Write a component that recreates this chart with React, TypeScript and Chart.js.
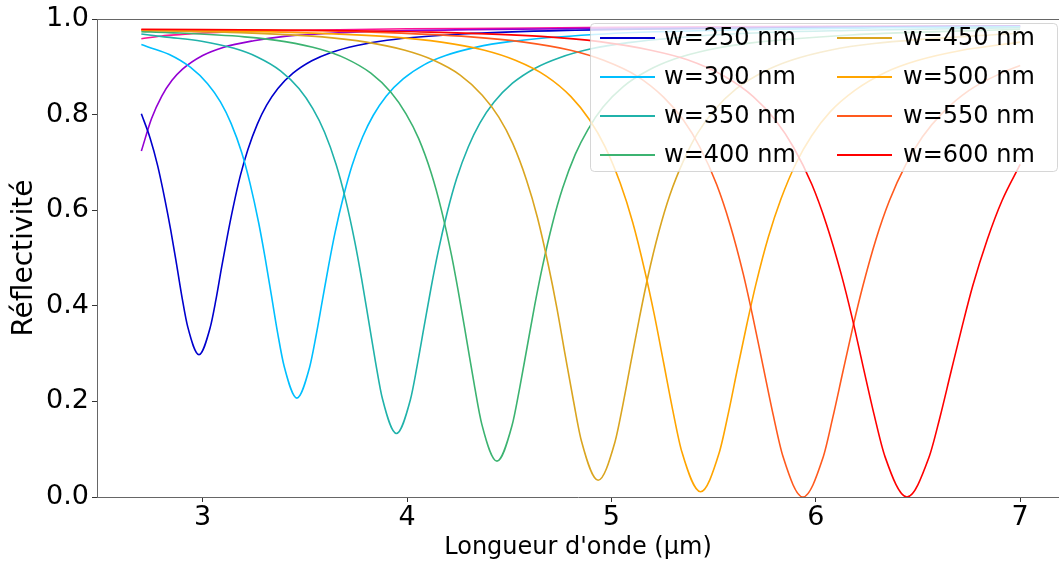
import React, { useEffect, useRef } from 'react';
import { Chart, registerables } from 'chart.js';

Chart.register(...registerables);

const FONT = '"DejaVu Sans", sans-serif';

// Axis ticks
const xTicks = [3, 4, 5, 6, 7];
const yTicks = [0, 0.2, 0.4, 0.6, 0.8, 1.0];

// Series (wavelength in µm, reflectivity)
const w150X = [2.7, 2.8, 2.9, 3.0, 3.2, 3.5, 4.0, 4.5, 5.0, 6.0, 7.0];
const w150Y = [0.959, 0.965, 0.968, 0.971, 0.974, 0.977, 0.98, 0.981, 0.983, 0.985, 0.986];

const w200X = [2.7, 2.75, 2.8, 2.85, 2.9, 3.0, 3.1, 3.25, 3.4, 3.6, 3.9, 4.3, 5.0, 6.0, 7.0];
const w200Y = [0.724, 0.792, 0.839, 0.872, 0.895, 0.924, 0.941, 0.955, 0.964, 0.97, 0.975, 0.978, 0.981, 0.984, 0.986];

const w250X = [2.7, 2.743, 2.78, 2.816, 2.844, 2.872, 2.899, 2.927, 2.982, 3.037, 3.065, 3.092, 3.12, 3.148, 3.184, 3.221, 3.267, 3.313, 3.368, 3.442, 3.534, 3.626, 3.755, 3.902, 4.27, 4.822, 5.558, 6.662, 7.0];
const w250Y = [0.802, 0.751, 0.693, 0.621, 0.558, 0.488, 0.418, 0.356, 0.298, 0.355, 0.413, 0.479, 0.544, 0.604, 0.672, 0.727, 0.78, 0.82, 0.855, 0.887, 0.913, 0.93, 0.945, 0.956, 0.969, 0.977, 0.981, 0.985, 0.985];

const w300X = [2.7, 2.733, 2.837, 2.941, 3.024, 3.087, 3.139, 3.191, 3.232, 3.274, 3.305, 3.336, 3.367, 3.399, 3.461, 3.523, 3.555, 3.586, 3.617, 3.648, 3.69, 3.731, 3.783, 3.835, 3.898, 3.981, 4.085, 4.189, 4.335, 4.501, 4.917, 5.541, 6.373, 7.0];
const w300Y = [0.947, 0.942, 0.926, 0.899, 0.865, 0.827, 0.782, 0.721, 0.656, 0.574, 0.502, 0.423, 0.343, 0.273, 0.207, 0.271, 0.338, 0.412, 0.486, 0.554, 0.631, 0.694, 0.754, 0.799, 0.839, 0.875, 0.905, 0.924, 0.941, 0.953, 0.968, 0.977, 0.982, 0.984];

const w350X = [2.7, 2.813, 2.995, 3.154, 3.267, 3.381, 3.471, 3.539, 3.596, 3.653, 3.698, 3.744, 3.778, 3.812, 3.846, 3.88, 3.948, 4.016, 4.05, 4.084, 4.118, 4.152, 4.198, 4.243, 4.3, 4.357, 4.425, 4.516, 4.629, 4.743, 4.901, 5.083, 5.537, 6.218, 7.0];
const w350Y = [0.969, 0.963, 0.954, 0.939, 0.921, 0.892, 0.855, 0.813, 0.764, 0.696, 0.625, 0.535, 0.456, 0.369, 0.282, 0.205, 0.133, 0.203, 0.276, 0.358, 0.439, 0.513, 0.598, 0.667, 0.733, 0.783, 0.826, 0.866, 0.898, 0.919, 0.938, 0.951, 0.968, 0.977, 0.982];

const w400X = [2.7, 2.835, 3.205, 3.403, 3.576, 3.699, 3.823, 3.921, 3.995, 4.057, 4.119, 4.168, 4.218, 4.255, 4.292, 4.329, 4.366, 4.44, 4.514, 4.551, 4.588, 4.625, 4.662, 4.712, 4.761, 4.823, 4.885, 4.959, 5.058, 5.181, 5.305, 5.477, 5.675, 6.169, 7.0];
const w400Y = [0.974, 0.972, 0.963, 0.953, 0.937, 0.918, 0.887, 0.847, 0.802, 0.75, 0.677, 0.601, 0.505, 0.42, 0.328, 0.235, 0.152, 0.075, 0.15, 0.228, 0.315, 0.402, 0.481, 0.573, 0.646, 0.717, 0.769, 0.816, 0.859, 0.893, 0.916, 0.936, 0.95, 0.967, 0.979];

const w450X = [2.7, 2.775, 3.18, 3.585, 3.801, 3.99, 4.125, 4.26, 4.368, 4.449, 4.517, 4.584, 4.638, 4.692, 4.733, 4.773, 4.814, 4.854, 4.935, 5.016, 5.057, 5.097, 5.138, 5.178, 5.232, 5.286, 5.354, 5.421, 5.502, 5.61, 5.745, 5.88, 6.069, 6.285, 7.0];
const w450Y = [0.977, 0.976, 0.972, 0.963, 0.952, 0.935, 0.915, 0.883, 0.841, 0.795, 0.74, 0.664, 0.585, 0.484, 0.396, 0.299, 0.202, 0.116, 0.035, 0.113, 0.195, 0.286, 0.377, 0.46, 0.555, 0.632, 0.705, 0.761, 0.809, 0.854, 0.89, 0.914, 0.935, 0.949, 0.971];

const w500X = [2.7, 3.02, 3.473, 3.926, 4.168, 4.379, 4.53, 4.681, 4.802, 4.892, 4.968, 5.043, 5.104, 5.164, 5.21, 5.255, 5.3, 5.345, 5.436, 5.527, 5.572, 5.617, 5.663, 5.708, 5.768, 5.829, 5.904, 5.98, 6.07, 6.191, 6.342, 6.493, 6.704, 7.0];
const w500Y = [0.977, 0.976, 0.972, 0.963, 0.952, 0.935, 0.914, 0.881, 0.838, 0.79, 0.734, 0.657, 0.575, 0.472, 0.381, 0.282, 0.182, 0.094, 0.011, 0.092, 0.175, 0.269, 0.362, 0.447, 0.544, 0.623, 0.699, 0.756, 0.806, 0.851, 0.889, 0.913, 0.934, 0.952];

const w550X = [2.7, 3.337, 3.825, 4.312, 4.572, 4.8, 4.962, 5.125, 5.255, 5.352, 5.433, 5.515, 5.58, 5.645, 5.693, 5.742, 5.791, 5.84, 5.937, 6.035, 6.083, 6.132, 6.181, 6.23, 6.295, 6.36, 6.441, 6.522, 6.62, 6.75, 6.912, 7.0];
const w550Y = [0.978, 0.977, 0.973, 0.963, 0.952, 0.935, 0.914, 0.881, 0.837, 0.789, 0.732, 0.654, 0.571, 0.467, 0.375, 0.274, 0.173, 0.084, 0.0, 0.082, 0.166, 0.261, 0.355, 0.441, 0.54, 0.62, 0.696, 0.754, 0.804, 0.851, 0.888, 0.903];

const w600X = [2.7, 3.582, 4.119, 4.656, 4.942, 5.193, 5.372, 5.551, 5.694, 5.802, 5.891, 5.981, 6.052, 6.124, 6.178, 6.231, 6.285, 6.339, 6.446, 6.553, 6.607, 6.661, 6.715, 6.768, 6.84, 6.911, 7.0];
const w600Y = [0.979, 0.977, 0.973, 0.964, 0.953, 0.935, 0.915, 0.881, 0.838, 0.789, 0.732, 0.654, 0.571, 0.467, 0.375, 0.274, 0.173, 0.084, 0.0, 0.082, 0.166, 0.261, 0.355, 0.442, 0.54, 0.62, 0.696];

const seriesLabels = ['w=150 nm', 'w=200 nm', 'w=250 nm', 'w=300 nm', 'w=350 nm', 'w=400 nm', 'w=450 nm', 'w=500 nm', 'w=550 nm', 'w=600 nm'];
const seriesColors = ['#FF1493', '#9400D3', '#0000CD', '#00BFFF', '#20B2AA', '#3CB371', '#DAA520', '#FFA500', '#FF5A1E', '#FF0000'];
const seriesInLegend = [false, false, true, true, true, true, true, true, true, true];
const seriesX = [w150X, w200X, w250X, w300X, w350X, w400X, w450X, w500X, w550X, w600X];
const seriesY = [w150Y, w200Y, w250Y, w300Y, w350Y, w400Y, w450Y, w500Y, w550Y, w600Y];

const topSpinePlugin = {
  id: 'topSpine',
  afterDraw(chart: any) {
    const { ctx, chartArea } = chart;
    ctx.save();
    ctx.strokeStyle = '#666';
    ctx.lineWidth = 1;
    ctx.beginPath();
    const y = Math.round(chartArea.top) + 0.5;
    ctx.moveTo(chartArea.left, y);
    ctx.lineTo(chartArea.right, y);
    ctx.stroke();
    ctx.restore();
  },
};

const legendPlugin = {
  id: 'mplLegend',
  afterDraw(chart: any) {
    const ctx = chart.ctx;
    ctx.save();
    const bx = 590.5, by = 23.5, bw = 467, bh = 148, r = 4;
    ctx.beginPath();
    ctx.moveTo(bx + r, by);
    ctx.lineTo(bx + bw - r, by);
    ctx.quadraticCurveTo(bx + bw, by, bx + bw, by + r);
    ctx.lineTo(bx + bw, by + bh - r);
    ctx.quadraticCurveTo(bx + bw, by + bh, bx + bw - r, by + bh);
    ctx.lineTo(bx + r, by + bh);
    ctx.quadraticCurveTo(bx, by + bh, bx, by + bh - r);
    ctx.lineTo(bx, by + r);
    ctx.quadraticCurveTo(bx, by, bx + r, by);
    ctx.closePath();
    ctx.fillStyle = 'rgba(255,255,255,0.8)';
    ctx.fill();
    ctx.strokeStyle = 'rgba(204,204,204,0.8)';
    ctx.lineWidth = 1;
    ctx.stroke();

    const entries = seriesLabels.map((l, i) => ({ l, c: seriesColors[i], show: seriesInLegend[i] })).filter((e) => e.show);
    const handleX = [[600, 655], [837, 892]];
    const textX = [664, 903];
    ctx.font = `24px ${FONT}`;
    ctx.textBaseline = 'middle';
    ctx.textAlign = 'left';
    entries.forEach((e, i) => {
      const col = Math.floor(i / 4);
      const row = i % 4;
      const y = 38 + row * 39;
      ctx.strokeStyle = e.c;
      ctx.lineWidth = 2;
      ctx.beginPath();
      ctx.moveTo(handleX[col][0], y);
      ctx.lineTo(handleX[col][1], y);
      ctx.stroke();
      ctx.fillStyle = '#000';
      ctx.fillText(e.l, textX[col], y + 1);
    });
    ctx.restore();
  },
};

export default function App() {
  const ref = useRef<HTMLCanvasElement>(null);
  useEffect(() => {
    document.body.style.margin = '0';
    document.body.style.overflow = 'hidden';
    const n = seriesX.length;
    const chart = new Chart(ref.current as HTMLCanvasElement, {
      type: 'line',
      data: {
        datasets: seriesX.map((xs, i) => ({
          label: seriesLabels[i],
          data: xs.map((x, j) => ({ x, y: seriesY[i][j] })),
          borderColor: seriesColors[i],
          backgroundColor: seriesColors[i],
          borderWidth: 1.6,
          pointRadius: 0,
          fill: false,
          cubicInterpolationMode: 'monotone',
          order: n - i,
        })),
      } as any,
      options: {
        animation: false,
        responsive: false,
        devicePixelRatio: 1,
        layout: { padding: { left: 0, right: 0, top: 18, bottom: 0 } },
        plugins: { legend: { display: false }, tooltip: { enabled: false } },
        scales: {
          x: {
            type: 'linear',
            min: 2.483,
            max: 7.19,
            afterBuildTicks: (s: any) => {
              s.ticks = xTicks.map((v) => ({ value: v }));
            },
            afterFit: (s: any) => {
              s.height = 66;
            },
            ticks: {
              font: { family: FONT, size: 27 },
              color: '#000',
              padding: 0,
              maxRotation: 0,
              callback: (v: any) => String(v),
            },
            grid: { drawOnChartArea: false, drawTicks: true, tickLength: 5, tickColor: '#333', color: '#333' },
            border: { display: true, color: '#666', width: 1 },
            title: {
              display: true,
              text: "Longueur d'onde (µm)",
              font: { family: FONT, size: 24 },
              color: '#000',
              padding: { top: 0, bottom: 1 },
            },
          },
          y: {
            type: 'linear',
            min: 0,
            max: 1,
            afterBuildTicks: (s: any) => {
              s.ticks = yTicks.map((v) => ({ value: v }));
            },
            afterFit: (s: any) => {
              s.width = 97;
            },
            ticks: {
              font: { family: FONT, size: 27 },
              color: '#000',
              padding: 3,
              callback: (v: any) => Number(v).toFixed(1),
            },
            grid: { drawOnChartArea: false, drawTicks: true, tickLength: 5, tickColor: '#333', color: '#333' },
            border: { display: true, color: '#666', width: 1 },
            title: {
              display: true,
              text: 'Réflectivité',
              font: { family: FONT, size: 28 },
              color: '#000',
              padding: { top: 8, bottom: 0 },
            },
          },
        },
      } as any,
      plugins: [topSpinePlugin, legendPlugin],
    });
    return () => chart.destroy();
  }, []);
  return (
    <div style={{ width: 1059, height: 563, position: 'relative' }}>
      <canvas ref={ref} width={1059} height={563} style={{ display: 'block', width: '1059px', height: '563px' }} />
    </div>
  );
}
